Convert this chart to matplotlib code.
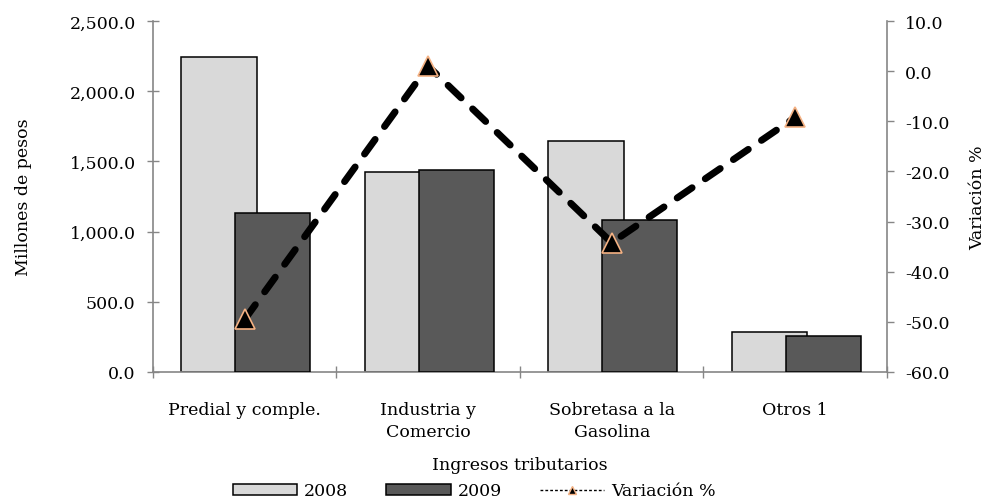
import numpy as np
import matplotlib
matplotlib.use("Agg")
import matplotlib.pyplot as plt
from matplotlib.patches import Patch
from matplotlib.lines import Line2D

plt.rcParams['font.family'] = ['DejaVu Serif']

# datos
categorias = ["Predial y comple.", "Industria y\nComercio", "Sobretasa a la\nGasolina", "Otros 1"]
v2008 = [2245.0, 1425.0, 1645.0, 283.0]
v2009 = [1133.0, 1438.0, 1083.0, 258.0]
variacion = [-49.5, 1.0, -34.2, -9.2]

x = np.arange(len(categorias))
gris = "#868686"
fs = 12.5

fig = plt.figure(figsize=(10.03, 5.02), dpi=100)
ax = fig.add_axes([0.1525, 0.257, 0.7318, 0.699])

# barras
ax.bar(x - 0.140, v2008, 0.41, color="#D9D9D9", edgecolor="black", linewidth=1.1, zorder=2)
ax.bar(x + 0.153, v2009, 0.41, color="#595959", edgecolor="black", linewidth=1.1, zorder=3)

ax.set_xlim(-0.5, len(categorias) - 0.5)
ax.set_ylim(0, 2500)
ax.set_yticks(np.arange(0, 2501, 500))
ax.set_yticklabels(["{:,.1f}".format(v) for v in np.arange(0, 2501, 500)])
ax.set_xticks(np.arange(-0.5, len(categorias), 1.0))
ax.set_xticklabels([])
ax.set_xticks(x, minor=True)
ax.set_xticklabels(categorias, minor=True, linespacing=1.35)
ax.tick_params(axis="x", which="minor", length=0, pad=21, labelsize=fs)
ax.tick_params(axis="x", which="major", direction="inout", length=8, color=gris, width=1)
ax.tick_params(axis="y", direction="inout", length=9, color=gris, width=1, labelsize=fs, pad=8)
for s in ["top", "right"]:
    ax.spines[s].set_visible(False)
for s in ["left", "bottom"]:
    ax.spines[s].set_color(gris)
    ax.spines[s].set_linewidth(1.2)
ax.set_ylabel("Millones de pesos", fontsize=fs, labelpad=27)
ax.set_xlabel("Ingresos tributarios", fontsize=fs, labelpad=12)

# eje secundario
ax2 = ax.twinx()
ax2.plot(x, variacion, color="black", linewidth=5, linestyle=(0, (2.6, 2.3)),
         dash_capstyle="round", marker="^", markersize=15,
         markerfacecolor="black", markeredgecolor="#F4B183", markeredgewidth=1.2, zorder=5)
ax2.set_ylim(-60, 10)
ax2.set_yticks(np.arange(-60, 11, 10))
ax2.set_yticklabels(["{:.1f}".format(v) for v in np.arange(-60, 11, 10)])
ax2.tick_params(axis="y", direction="out", length=5, color=gris, width=1, labelsize=fs, pad=8)
for s in ["top", "left", "bottom"]:
    ax2.spines[s].set_visible(False)
ax2.spines["right"].set_color(gris)
ax2.spines["right"].set_linewidth(1.2)
ax2.set_ylabel("Variación %", fontsize=fs, labelpad=14)

# leyenda
handles = [Patch(facecolor="#D9D9D9", edgecolor="black", linewidth=1.1),
           Patch(facecolor="#595959", edgecolor="black", linewidth=1.1),
           Line2D([0], [0], color="black", linewidth=1, linestyle=(0, (2, 1.5)),
                  marker="^", markersize=6, markerfacecolor="black", markeredgecolor="#F4B183")]
fig.legend(handles, ["2008", "2009", "Variación %"], loc="center", bbox_to_anchor=(0.473, 0.02),
           ncol=3, frameon=False, fontsize=fs, handlelength=3.7, handleheight=0.6,
           handletextpad=0.4, columnspacing=2.2)

fig.savefig("out.png", dpi=100)
